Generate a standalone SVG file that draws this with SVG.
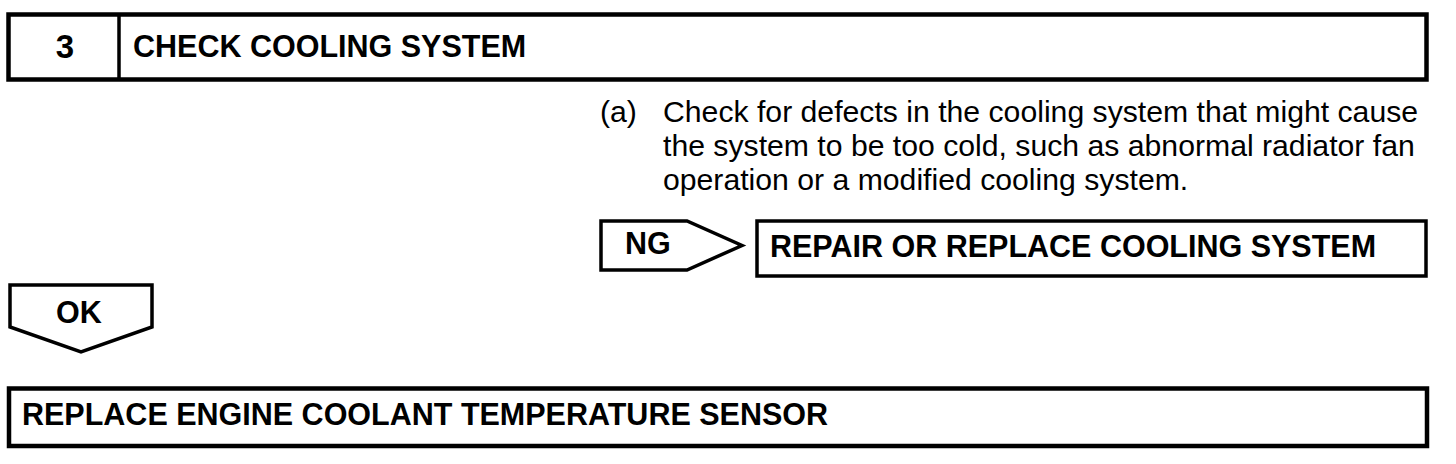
<svg xmlns="http://www.w3.org/2000/svg" width="1456" height="464" viewBox="0 0 1456 464">
<style>
.b{fill:#fff;stroke:#000;stroke-width:3.5}
.thick{stroke-width:4.5}
.h{font-family:"Liberation Sans",Arial,sans-serif;font-weight:bold;font-size:30.5px;fill:#000}
.p{font-family:"Liberation Sans",Arial,sans-serif;font-size:30.2px;fill:#000}
</style>
<rect width="1456" height="464" fill="#fff"/>
<g id="title">
<rect class="b thick" x="8.5" y="14.5" width="1418" height="65"/>
<line x1="119" y1="14" x2="119" y2="80" stroke="#000" stroke-width="3.5"/>
<text class="h" x="65" y="58" text-anchor="middle" style="font-size:33px">3</text>
<text class="h" x="133" y="57">CHECK COOLING SYSTEM</text>
</g>
<g id="step">
<text class="p" x="600" y="122">(a)</text>
<text class="p" x="663" y="122">Check for defects in the cooling system that might cause</text>
<text class="p" x="663" y="156">the system to be too cold, such as abnormal radiator fan</text>
<text class="p" x="663" y="190">operation or a modified cooling system.</text>
</g>
<g id="connectors">
<g id="ng">
<polygon class="b" points="601,221 687,221 742,245.5 687,270 601,270"/>
<text class="h" x="625" y="254">NG</text>
</g>
<g id="ok">
<polygon class="b" points="10,285 152,285 152,327 81,352 10,327"/>
<text class="h" x="56" y="323">OK</text>
</g>
</g>
<g id="repair">
<rect class="b" x="757" y="221" width="669" height="55"/>
<text class="h" x="770" y="257">REPAIR OR REPLACE COOLING SYSTEM</text>
</g>
<g id="replace">
<rect class="b thick" x="9" y="388.5" width="1418" height="57.5"/>
<text class="h" x="22" y="425">REPLACE ENGINE COOLANT TEMPERATURE SENSOR</text>
</g>
</svg>
